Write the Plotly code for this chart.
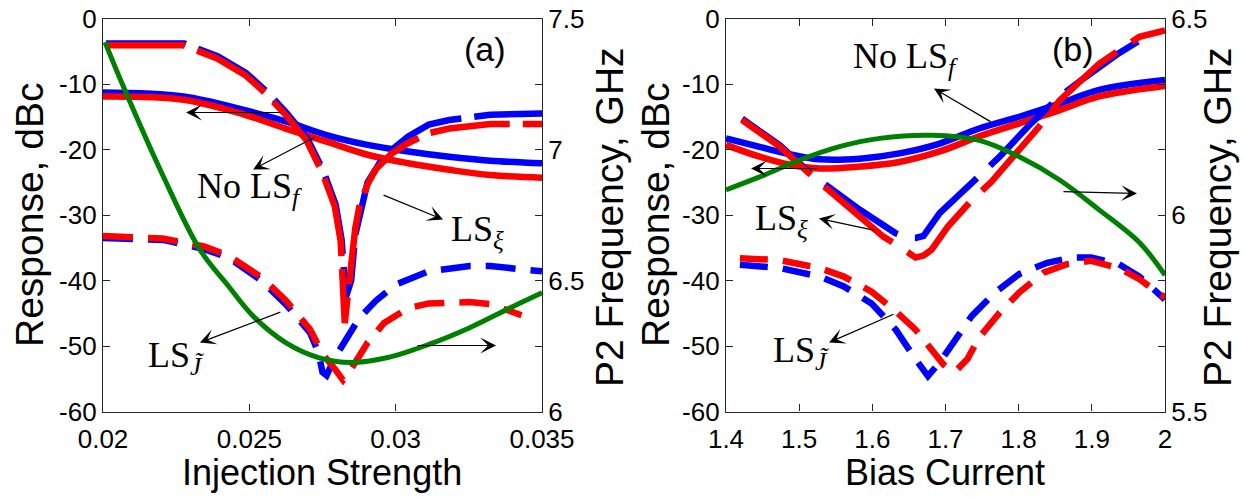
import plotly.graph_objects as go

W, H = 1244, 497

# ---------------- Panel (a): Injection Strength ----------------
a_solid_x = [0.02, 0.02275, 0.02485, 0.02624, 0.02764, 0.02904, 0.03043, 0.03183, 0.03323, 0.035]
a_nols_blue = [-11.3, -11.9, -14.0, -15.7, -17.8, -19.3, -20.3, -21.1, -21.7, -22.1]
a_nols_red = [-11.9, -12.4, -14.7, -16.8, -18.8, -20.8, -22.1, -23.1, -23.9, -24.3]

a_xi_red_x = [0.02007, 0.0215, 0.02275, 0.0239, 0.02485, 0.02555, 0.02624, 0.02694, 0.0275, 0.02792,
              0.02812, 0.02826, 0.0284, 0.02862, 0.02876, 0.02904, 0.02932, 0.02987, 0.03043, 0.03113,
              0.03183, 0.03323, 0.035]
a_xi_red = [-4.1, -4.0, -4.1, -6.1, -8.6, -11.4, -14.7, -18.5, -23.6, -28.7,
            -34.0, -46.5, -40.0, -32.0, -28.7, -25.3, -23.0, -20.6, -19.0, -17.5,
            -16.8, -16.1, -16.1]
a_xi_blue_x = [0.0201, 0.02153, 0.02278, 0.02393, 0.02488, 0.02558, 0.02627, 0.02697, 0.02753, 0.02795,
               0.02815, 0.0283, 0.02848, 0.02862, 0.02904, 0.0296, 0.03043, 0.03113, 0.03183, 0.03323,
               0.035]
a_xi_blue = [-3.8, -3.7, -3.8, -5.8, -8.3, -11.1, -14.4, -18.2, -23.3, -28.4,
             -33.7, -42.5, -40.0, -33.0, -25.0, -21.0, -18.0, -16.2, -15.5, -14.7,
             -14.5]

a_j_blue_x = [0.02, 0.02205, 0.02345, 0.02429, 0.02541, 0.02624, 0.02708, 0.02736, 0.0275, 0.02764,
              0.02792, 0.02834, 0.02876, 0.02932, 0.03001, 0.03113, 0.03253, 0.03323, 0.035]
a_j_blue = [-33.5, -33.8, -35.2, -36.5, -40.0, -43.6, -48.0, -51.0, -54.0, -54.5,
            -51.8, -48.7, -45.7, -43.1, -40.6, -38.6, -37.8, -37.8, -38.6]
a_j_red_x = [0.02, 0.02205, 0.02345, 0.02429, 0.02541, 0.02624, 0.02708, 0.0275, 0.02792, 0.0282,
             0.02848, 0.02904, 0.0296, 0.03043, 0.03113, 0.03253, 0.03323, 0.0343]
a_j_red = [-33.2, -33.6, -34.8, -36.2, -39.5, -43.0, -47.5, -51.2, -53.5, -55.2,
           -53.5, -49.5, -46.5, -44.2, -43.5, -43.3, -43.6, -45.3]

a_freq_x = [0.02007, 0.02066, 0.02205, 0.02331, 0.02429, 0.02513, 0.02624, 0.02736, 0.02848, 0.02973,
            0.03113, 0.03253, 0.03392, 0.035]
a_freq = [7.41, 7.25, 6.90, 6.618, 6.478, 6.364, 6.263, 6.206, 6.187, 6.206,
          6.256, 6.32, 6.396, 6.453]

# ---------------- Panel (b): Bias Current ----------------
b_solid_x = [1.4, 1.446, 1.49, 1.528, 1.583, 1.637, 1.692, 1.746, 1.801, 1.856, 1.910, 2.0]
b_nols_blue = [-18.3, -19.6, -20.8, -21.5, -21.4, -20.6, -19.1, -16.8, -15.0, -13.0, -10.9, -9.4]
b_nols_red = [-19.3, -21.1, -22.4, -22.9, -22.6, -21.9, -20.3, -18.0, -16.0, -14.0, -11.9, -10.3]

b_xi_red_x = [1.422, 1.474, 1.517, 1.545, 1.583, 1.615, 1.637, 1.648, 1.659, 1.67, 1.681, 1.703,
              1.736, 1.763, 1.801, 1.828, 1.856, 1.91, 1.965, 2.0]
b_xi_red = [-15.5, -19.6, -24.0, -26.7, -30.2, -33.3, -34.8, -35.8, -36.5, -36.2, -35.3, -31.8,
            -27.7, -24.9, -20.0, -16.5, -12.5, -6.9, -2.8, -1.8]
b_xi_blue_x = [1.422, 1.474, 1.517, 1.542, 1.583, 1.632, 1.648, 1.659, 1.67, 1.692, 1.73, 1.774,
               1.817, 1.856, 1.888, 1.937, 1.981]
b_xi_blue = [-15.3, -19.4, -23.8, -25.9, -29.2, -32.8, -33.5, -33.5, -33.2, -29.7, -25.7, -21.1,
             -16.0, -11.9, -9.2, -5.3, -2.3]

b_j_red_x = [1.419, 1.474, 1.528, 1.561, 1.599, 1.632, 1.659, 1.681, 1.697, 1.708, 1.714, 1.73,
             1.746, 1.774, 1.801, 1.834, 1.866, 1.899, 1.937, 1.965, 2.0]
b_j_red = [-36.6, -36.9, -38.1, -39.4, -41.7, -44.7, -47.5, -50.5, -52.8, -53.8, -53.8, -52.0,
           -48.7, -44.9, -41.8, -38.8, -37.5, -37.0, -38.1, -39.8, -42.6]
b_j_blue_x = [1.419, 1.474, 1.528, 1.561, 1.599, 1.632, 1.659, 1.676, 1.692, 1.714, 1.736, 1.768,
              1.801, 1.839, 1.872, 1.899, 1.937, 1.965, 2.0]
b_j_blue = [-37.6, -38.1, -39.4, -40.9, -43.5, -47.5, -52.0, -54.6, -52.5, -49.0, -45.4, -41.8,
            -39.0, -37.3, -36.5, -36.5, -37.5, -39.4, -42.9]

b_freq_x = [1.4, 1.446, 1.501, 1.555, 1.61, 1.681, 1.746, 1.801, 1.856, 1.910, 1.965, 2.0]
b_freq = [6.064, 6.097, 6.14, 6.174, 6.195, 6.203, 6.19, 6.148, 6.089, 6.013, 5.93, 5.847]

# ---------------- Ticks ----------------
resp_ticks = [-60, -50, -40, -30, -20, -10, 0]
resp_ticktext = ["-60", "-50", "-40", "-30", "-20", "-10", "0"]
a_x_ticks = [0.02, 0.025, 0.03, 0.035]
a_x_ticktext = ["0.02", "0.025", "0.03", "0.035"]
a_f_ticks = [6, 6.5, 7, 7.5]
a_f_ticktext = ["6", "6.5", "7", "7.5"]
b_x_ticks = [1.4, 1.5, 1.6, 1.7, 1.8, 1.9, 2.0]
b_x_ticktext = ["1.4", "1.5", "1.6", "1.7", "1.8", "1.9", "2"]
b_f_ticks = [5.5, 6, 6.5]
b_f_ticktext = ["5.5", "6", "6.5"]

BLUE = "#0000FF"
RED = "#FF0000"
GREEN = "#008000"
LW = 6.5
UP_DASH = "80px,13px"
LO_DASH = "30px,15px"

fig = go.Figure()


def add(x, y, color, dash, xa, ya, width=LW, shape="linear"):
    fig.add_trace(go.Scatter(x=x, y=y, mode="lines", xaxis=xa, yaxis=ya, showlegend=False,
                             hoverinfo="skip",
                             line=dict(color=color, width=width, dash=dash, shape=shape)))


# panel (a)
add(a_solid_x, a_nols_blue, BLUE, "solid", "x", "y", shape="spline")
add(a_solid_x, a_nols_red, RED, "solid", "x", "y", shape="spline")
add(a_xi_blue_x, a_xi_blue, BLUE, UP_DASH, "x", "y")
add(a_xi_red_x, a_xi_red, RED, UP_DASH, "x", "y")
add(a_j_blue_x, a_j_blue, BLUE, LO_DASH, "x", "y")
add(a_j_red_x, a_j_red, RED, LO_DASH, "x", "y")
add(a_freq_x, a_freq, GREEN, "solid", "x", "y2", width=5, shape="spline")

# panel (b)
add(b_solid_x, b_nols_blue, BLUE, "solid", "x2", "y3", shape="spline")
add(b_solid_x, b_nols_red, RED, "solid", "x2", "y3", shape="spline")
add(b_xi_blue_x, b_xi_blue, BLUE, "88px,18px", "x2", "y3")
add(b_xi_red_x, b_xi_red, RED, "88px,18px", "x2", "y3")
add(b_j_blue_x, b_j_blue, BLUE, "28px,15px", "x2", "y3")
add(b_j_red_x, b_j_red, RED, "28px,15px", "x2", "y3")
add(b_freq_x, b_freq, GREEN, "solid", "x2", "y4", width=5, shape="spline")

AX_COLOR = "#262626"
TICK_FONT = dict(family="Liberation Sans, Arial, sans-serif", size=26, color="black")
common = dict(showgrid=False, zeroline=False, showline=True, linecolor=AX_COLOR, linewidth=1.3,
              ticks="inside", ticklen=7, tickwidth=1.2, tickcolor=AX_COLOR, tickfont=TICK_FONT,
              automargin=False)

ydom = [1 - 411.5 / H, 1 - 18.5 / H]
xdom_a = [103 / W, 542 / W]
xdom_b = [726 / W, 1165 / W]

fig.update_layout(
    width=W, height=H, margin=dict(l=0, r=0, t=0, b=0),
    paper_bgcolor="white", plot_bgcolor="white", showlegend=False,
    xaxis=dict(domain=xdom_a, range=[0.02, 0.035], tickvals=a_x_ticks, ticktext=a_x_ticktext,
               anchor="y", mirror="ticks", ticklabelstandoff=4, **common),
    yaxis=dict(domain=ydom, range=[-60, 0], tickvals=resp_ticks, ticktext=resp_ticktext,
               anchor="x", mirror="ticks", **common),
    yaxis2=dict(range=[6, 7.5], tickvals=a_f_ticks, ticktext=a_f_ticktext, overlaying="y",
                side="right", anchor="x", **common),
    xaxis2=dict(domain=xdom_b, range=[1.4, 2.0], tickvals=b_x_ticks, ticktext=b_x_ticktext,
                anchor="y3", mirror="ticks", ticklabelstandoff=4, **common),
    yaxis3=dict(domain=ydom, range=[-60, 0], tickvals=resp_ticks, ticktext=resp_ticktext,
                anchor="x2", mirror="ticks", **common),
    yaxis4=dict(range=[5.5, 6.5], tickvals=b_f_ticks, ticktext=b_f_ticktext, overlaying="y3",
                side="right", anchor="x2", **common),
)

SANS = "Liberation Sans, Arial, sans-serif"
SERIF = "Liberation Serif, Times New Roman, serif"
LAB_SIZE = 36


def ptext(text, px, py, angle=0, size=36, family=SANS):
    fig.add_annotation(text=text, x=px / W, y=1 - py / H, xref="paper", yref="paper",
                       showarrow=False, textangle=angle, xanchor="center", yanchor="middle",
                       font=dict(family=family, size=size, color="black"))


# axis titles
ptext("Response, dBc", 29, 215, -90, size=39)
ptext("P2 Frequency, GHz", 609, 217, -90, size=39)
ptext("Injection Strength", 322, 472, size=36)
ptext("Response, dBc", 655, 215, -90, size=39)
ptext("P2 Frequency, GHz", 1217, 217, -90, size=39)
ptext("Bias Current", 945, 472, size=36)


def dtext(text, x, y, xa, ya, size=LAB_SIZE, family=SERIF):
    fig.add_annotation(text=text, x=x, y=y, xref=xa, yref=ya, showarrow=False,
                       xanchor="center", yanchor="middle",
                       font=dict(family=family, size=size, color="black"))


def arrow(x, y, ax, ay, xa, ya):
    fig.add_annotation(text="", x=x, y=y, xref=xa, yref=ya, ax=ax, ay=ay,
                       showarrow=True, arrowhead=3, arrowsize=2.2, arrowwidth=1.2,
                       arrowcolor="black")


# panel (a) labels
dtext("(a)", 0.03305, -4.6, "x", "y", size=34, family=SANS)
dtext("No LS<sub><i>f</i></sub>", 0.02502, -26.0, "x", "y")
dtext("LS<sub><i>ξ</i></sub>", 0.03281, -32.5, "x", "y")
dtext("LS<sub><i>J̃</i></sub>", 0.0225, -51.8, "x", "y")
arrow(0.02284, -14.35, 96, 0, "x", "y")
arrow(0.02513, -23.05, 63, -33, "x", "y")
arrow(0.03162, -30.69, -61, -25, "x", "y")
arrow(0.02331, -49.47, 82, -31, "x", "y")
arrow(0.03343, -49.92, -80, 0, "x", "y")

# panel (b) labels
dtext("(b)", 1.8743, -4.6, "x2", "y3", size=34, family=SANS)
dtext("No LS<sub><i>f</i></sub>", 1.6447, -6.1, "x2", "y3")
dtext("LS<sub><i>ξ</i></sub>", 1.4765, -30.8, "x2", "y3")
dtext("LS<sub><i>J̃</i></sub>", 1.5025, -51.0, "x2", "y3")
arrow(1.6843, -10.69, 58, 34, "x2", "y3")
arrow(1.4342, -22.9, 68, 0, "x2", "y3")
arrow(1.9617, -26.72, -75, -2, "x2", "y3")
arrow(1.5271, -30.53, 56, 12, "x2", "y3")
arrow(1.5408, -49.47, 66, -29, "x2", "y3")

fig.write_html("out.html")
